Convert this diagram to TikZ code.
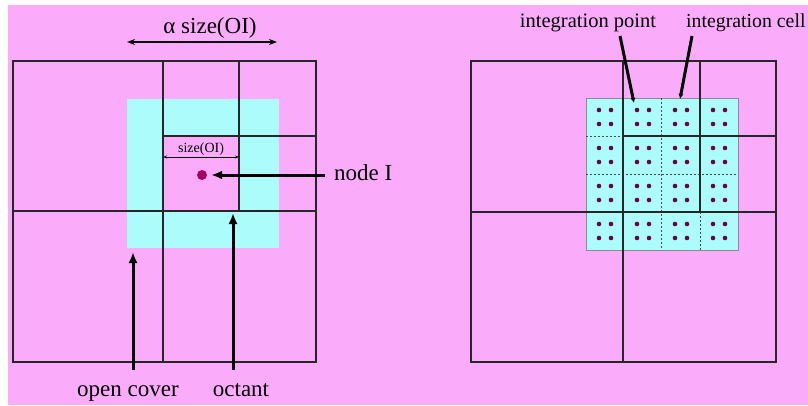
\documentclass[tikz,border=0pt]{standalone}
\usepackage{fontspec}
\setmainfont{Liberation Serif}
\usetikzlibrary{arrows.meta}

\definecolor{bgpink}{RGB}{250,172,250}
\definecolor{cover}{RGB}{172,252,252}
\definecolor{nodedot}{RGB}{165,0,95}
\definecolor{gaussdot}{RGB}{110,0,60}

\begin{document}
\begin{tikzpicture}[x=1pt,y=-1pt]
\tikzstyle{dep}= [line width=3pt,-{Latex[length=11pt,width=9pt]}]
\tikzstyle{dim}= [line width=1.4pt,{Stealth[length=8pt,width=6pt]}-{Stealth[length=8pt,width=6pt]}]
\tikzstyle{oct}= [line width=1.6pt,black!85]
\tikzstyle{cellline}= [line width=0.7pt,black!70,dash pattern=on 2pt off 2pt]
\tikzstyle{lbl}= [inner sep=0pt,anchor=base,font=\fontsize{23}{25}\selectfont]
\tikzstyle{gp}= [circle,fill=gaussdot,inner sep=0pt,minimum size=4.6pt]

\useasboundingbox (0,0) rectangle (808,405);
\fill[white] (0,0) rectangle (808,405);
\fill[bgpink] (8,5) rectangle (808,405);

% left: octree around node I with its open cover
\fill[cover] (127,99) rectangle (279,248);
\fill[bgpink] (163,136) rectangle (239,211);
\draw[oct] (13,61) rectangle (316,362);
\draw[oct] (163,61) -- (163,362);
\draw[oct] (13,211) -- (316,211);
\draw[oct] (239,61) -- (239,211);
\draw[oct] (163,136) -- (316,136);

% right: open cover split into integration cells
\fill[cover,draw=black!45,line width=0.6pt] (586,98) rectangle (738,250);
\draw[cellline] (661,98) -- (661,250);
\draw[cellline] (700,212) -- (700,250);
\draw[cellline] (586,136) -- (623,136);
\draw[cellline] (586,174) -- (738,174);
\draw[oct] (471,61) rectangle (776,362);
\draw[oct] (623,61) -- (623,362);
\draw[oct] (471,212) -- (776,212);
\draw[oct] (700,61) -- (700,212);
\draw[oct] (623,136) -- (776,136);
\foreach \i in {0,...,3}
  \foreach \j in {0,...,3}
    \foreach \dx in {-6,6}
      \foreach \dy in {-7,7}
        \node[gp] at (605+38*\i+\dx,117+38*\j+\dy) {};

\path
	(202,175) node[circle,fill=nodedot,inner sep=0pt,minimum size=10pt] (nodeI) {}
	(210,33) node[lbl] (alphalbl) {α size(OI)}
	(201,152) node[lbl,font=\fontsize{14}{16}\selectfont] (sizelbl) {size(OI)}
	(334,180) node[lbl,anchor=base west] (nodelbl) {node I}
	(128,396) node[lbl] (coverlbl) {open cover}
	(241,396) node[lbl] (octantlbl) {octant}
	(588,27) node[lbl,font=\fontsize{20.5}{22}\selectfont] (pointlbl) {integration point}
	(686,27) node[lbl,anchor=base west,font=\fontsize{19.8}{22}\selectfont] (celllbl) {integration cell}
;
\coordinate (alphaL) at (127,42);
\coordinate (alphaR) at (277,42);
\coordinate (sizeL) at (163,157);
\coordinate (sizeR) at (239,157);
\coordinate (nodetail) at (325,175);
\coordinate (covertail) at (133,370);
\coordinate (coverhead) at (133,252);
\coordinate (octanttail) at (233,370);
\coordinate (octanthead) at (233,213);
\coordinate (pointtail) at (620,36);
\coordinate (pointhead) at (634,103);
\coordinate (celltail) at (692,36);
\coordinate (cellhead) at (680,99);

\draw[dim] (alphaL) -- (alphaR);
\draw[line width=0.6pt,{Stealth[length=4pt,width=3pt]}-{Stealth[length=4pt,width=3pt]}] (sizeL) -- (sizeR);
\draw[dep,shorten >=4pt] (nodetail) -- (nodeI);
\draw[dep] (covertail) -- (coverhead);
\draw[dep] (octanttail) -- (octanthead);
\draw[dep,-{Latex[length=5pt,width=5pt]}] (pointtail) -- (pointhead);
\draw[dep,-{Latex[length=5pt,width=5pt]}] (celltail) -- (cellhead);
\end{tikzpicture}
\end{document}
